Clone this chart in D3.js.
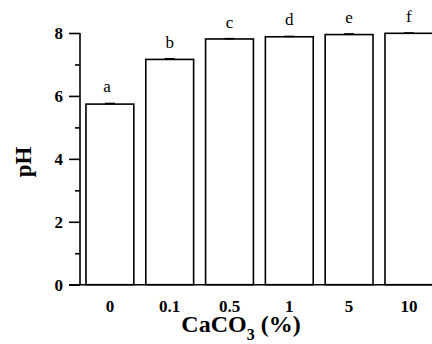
<!DOCTYPE html>
<html>
<head>
<meta charset="utf-8">
<script src="https://cdn.jsdelivr.net/npm/d3@7"></script>
<style>
  body { margin: 0; background: #fff; }
  svg { display: block; }
  text { font-family: "Liberation Serif", "Times New Roman", serif; }
</style>
</head>
<body>
<div id="chart"></div>
<script>
// CaCO3 dose (%) and measured pH
const categories = ["0", "0.1", "0.5", "1", "5", "10"];
const phValues = [5.74, 7.16, 7.81, 7.88, 7.95, 7.99];
const phErrors = [0.02, 0.02, 0.01, 0.01, 0.02, 0.01];
const letters = ["a", "b", "c", "d", "e", "f"];
const yTicks = [0, 2, 4, 6, 8];
const yMinorTicks = [1, 3, 5, 7];

const width = 432;
const height = 344;

const svg = d3.select("#chart")
    .append("svg")
    .attr("width", width)
    .attr("height", height);

// scales
const x = d3.scaleBand()
    .domain(categories)
    .range([80, 80 + 6 * 59.8])
    .paddingInner(0.2)
    .paddingOuter(0.1);

const y = d3.scaleLinear().domain([0, 8]).range([284.7, 33]);

// bars
svg.selectAll("rect.bar")
    .data(phValues)
    .enter()
    .append("rect")
    .attr("class", "bar")
    .attr("x", (d, i) => x(categories[i]))
    .attr("y", d => y(d))
    .attr("width", x.bandwidth())
    .attr("height", d => y(0) - y(d))
    .attr("fill", "#fff")
    .attr("stroke", "#000")
    .attr("stroke-width", 1.6);

// error bars
const cx = i => x(categories[i]) + x.bandwidth() / 2;
svg.selectAll("line.err")
    .data(phValues)
    .enter()
    .append("line")
    .attr("x1", (d, i) => cx(i))
    .attr("x2", (d, i) => cx(i))
    .attr("y1", (d, i) => y(d - phErrors[i]))
    .attr("y2", (d, i) => y(d + phErrors[i]))
    .attr("stroke", "#000")
    .attr("stroke-width", 1.2);
svg.selectAll("line.cap")
    .data(phValues)
    .enter()
    .append("line")
    .attr("x1", (d, i) => cx(i) - 5)
    .attr("x2", (d, i) => cx(i) + 5)
    .attr("y1", (d, i) => y(d + phErrors[i]))
    .attr("y2", (d, i) => y(d + phErrors[i]))
    .attr("stroke", "#000")
    .attr("stroke-width", 1.6);

// significance letters
svg.selectAll("text.letter")
    .data(letters)
    .enter()
    .append("text")
    .attr("x", (d, i) => cx(i) - (i === 0 ? 3 : 0))
    .attr("y", (d, i) => y(phValues[i] + phErrors[i]) - 11)
    .attr("text-anchor", "middle")
    .attr("font-size", 17)
    .text(d => d);

// y axis
const yAxis = svg.append("g")
    .attr("transform", "translate(80,0)")
    .call(d3.axisLeft(y).tickValues(yTicks).tickSize(11).tickPadding(6));
yAxis.select(".domain").attr("d", `M0,${y(8)}V${y(0)}`);
svg.append("g")
    .attr("transform", "translate(80,0)")
    .call(d3.axisLeft(y).tickValues(yMinorTicks).tickSize(5).tickFormat(""))
    .select(".domain").remove();
svg.selectAll(".tick line").attr("stroke-width", 1.6);
yAxis.select(".domain").attr("stroke-width", 1.6);
yAxis.selectAll("text")
    .attr("font-size", 17)
    .attr("font-weight", "bold")
    .attr("dy", "0.34em");

// x axis
const xAxis = svg.append("g")
    .attr("transform", `translate(0,${y(0)})`)
    .call(d3.axisBottom(x).tickSize(0).tickPadding(15));
xAxis.select(".domain").attr("d", `M69,0H${width + 2}`).attr("stroke-width", 1.6);
xAxis.selectAll("text")
    .attr("font-size", 17)
    .attr("font-weight", "bold");

// axis titles
const xTitle = svg.append("text")
    .attr("x", 241)
    .attr("y", 332)
    .attr("text-anchor", "middle")
    .attr("font-size", 24)
    .attr("font-weight", "bold");
xTitle.append("tspan").text("CaCO");
xTitle.append("tspan").attr("font-size", 16).attr("dy", 8).text("3");
xTitle.append("tspan").attr("dy", -8).text(" (%)");

svg.append("text")
    .attr("transform", "translate(31,162) rotate(-90)")
    .attr("text-anchor", "middle")
    .attr("font-size", 23)
    .attr("font-weight", "bold")
    .text("pH");
</script>
</body>
</html>
